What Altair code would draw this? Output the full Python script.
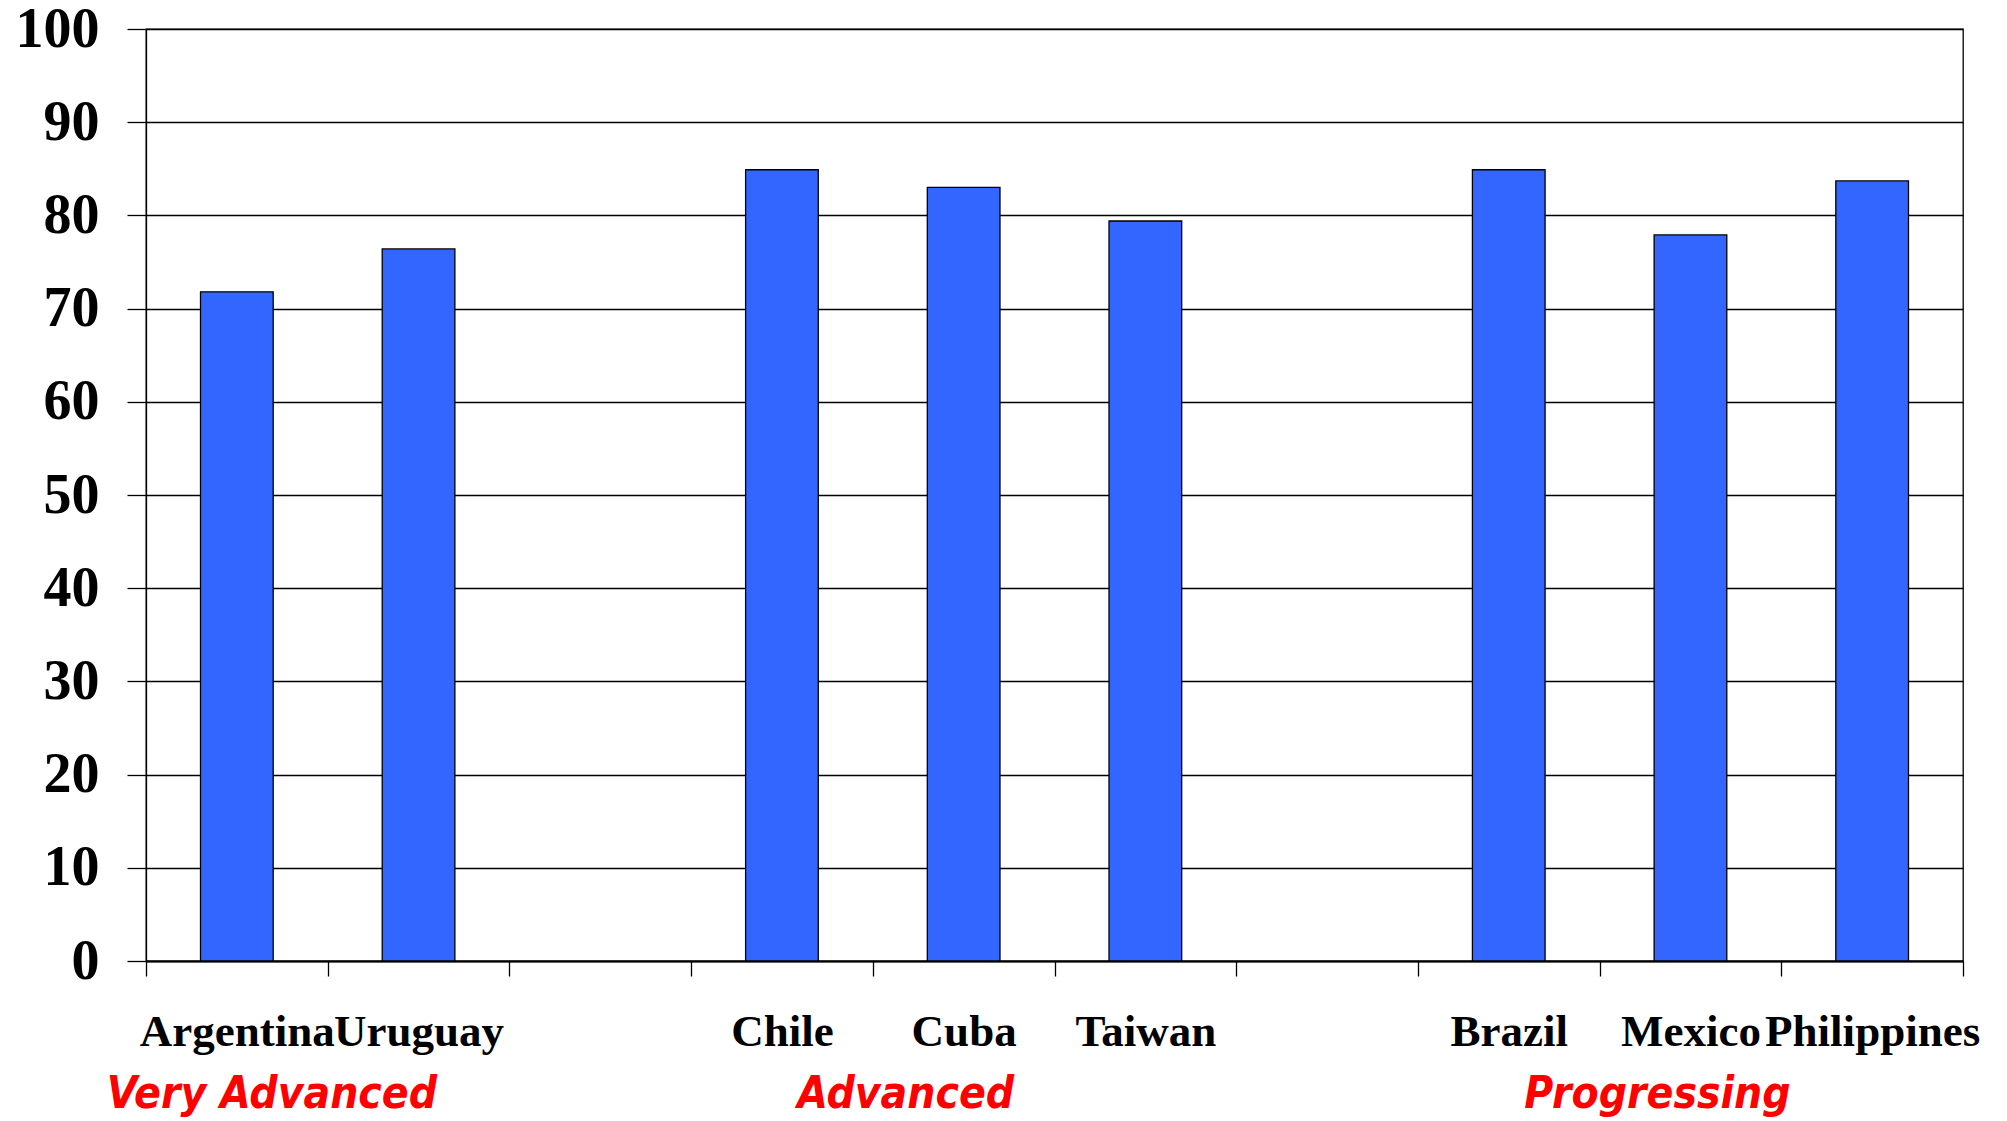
import altair as alt
import pandas as pd

# Countries in display order; blank slots separate the three groups
slots = ["Argentina", "Uruguay", " ", "Chile", "Cuba", "Taiwan", "  ", "Brazil", "Mexico", "Philippines"]
countries = ["Argentina", "Uruguay", "Chile", "Cuba", "Taiwan", "Brazil", "Mexico", "Philippines"]
scores = [71.8, 76.4, 84.9, 83.0, 79.4, 84.9, 77.9, 83.7]

# Group captions and the country each one sits under
groups = ["Very Advanced", "Advanced", "Progressing"]
group_anchor = ["Argentina", "Cuba", "Mexico"]

y_ticks = [0, 10, 20, 30, 40, 50, 60, 70, 80, 90, 100]

W, H = 1817, 932

bars_df = pd.DataFrame({"country": countries, "score": scores})

x_scale = alt.Scale(domain=slots, paddingInner=0, paddingOuter=0)

bars = alt.Chart(bars_df).mark_bar(
    width=alt.RelativeBandSize(0.4),
    color="#3366FF",
    stroke="#000000",
    strokeWidth=1.3,
).encode(
    x=alt.X(
        "country:N",
        scale=x_scale,
        sort=slots,
        axis=alt.Axis(
            title=None,
            labelAngle=0,
            labelFont="Liberation Serif",
            labelFontWeight="bold",
            labelFontSize=45,
            labelColor="#000000",
            labelPadding=33,
            labelLimit=0,
            labelOverlap=False,
            tickBand="extent",
            tickSize=15,
            tickColor="#000000",
            tickWidth=1.3,
            domainColor="#000000",
            domainWidth=2,
            grid=False,
        ),
    ),
    y=alt.Y(
        "score:Q",
        scale=alt.Scale(domain=[0, 100], nice=False),
        axis=alt.Axis(
            title=None,
            values=y_ticks,
            labelFont="Liberation Serif",
            labelFontWeight="bold",
            labelFontSize=56,
            labelColor="#000000",
            labelPadding=28,
            tickSize=19,
            tickColor="#000000",
            tickWidth=1.3,
            domainColor="#000000",
            domainWidth=1.3,
            grid=True,
            gridColor="#000000",
            gridWidth=1.4,
            gridOpacity=1,
        ),
    ),
)

# Red italic group captions below the country names
caption_shift = [35, -58, -33]
captions = []
for name, anchor, shift in zip(groups, group_anchor, caption_shift):
    cap_df = pd.DataFrame({"country": [anchor], "group": [name]})
    captions.append(
        alt.Chart(cap_df).mark_text(
            font="DejaVu Sans Condensed",
            fontSize=44,
            fontWeight="bold",
            fontStyle="italic",
            color="#FF0000",
            baseline="alphabetic",
            align="center",
            dx=shift,
        ).encode(
            x=alt.X("country:N", scale=x_scale, sort=slots),
            y=alt.value(H + 147),
            text="group:N",
        )
    )

chart = alt.layer(bars, *captions).properties(
    width=W,
    height=H,
    autosize=alt.AutoSizeParams(type="none"),
    padding={"left": 146, "top": 29, "right": 44, "bottom": 160},
    background="#FFFFFF",
).configure_view(
    stroke="#000000",
    strokeWidth=1.3,
)

chart.save("out.html", embed_options={"renderer": "svg", "actions": False})
